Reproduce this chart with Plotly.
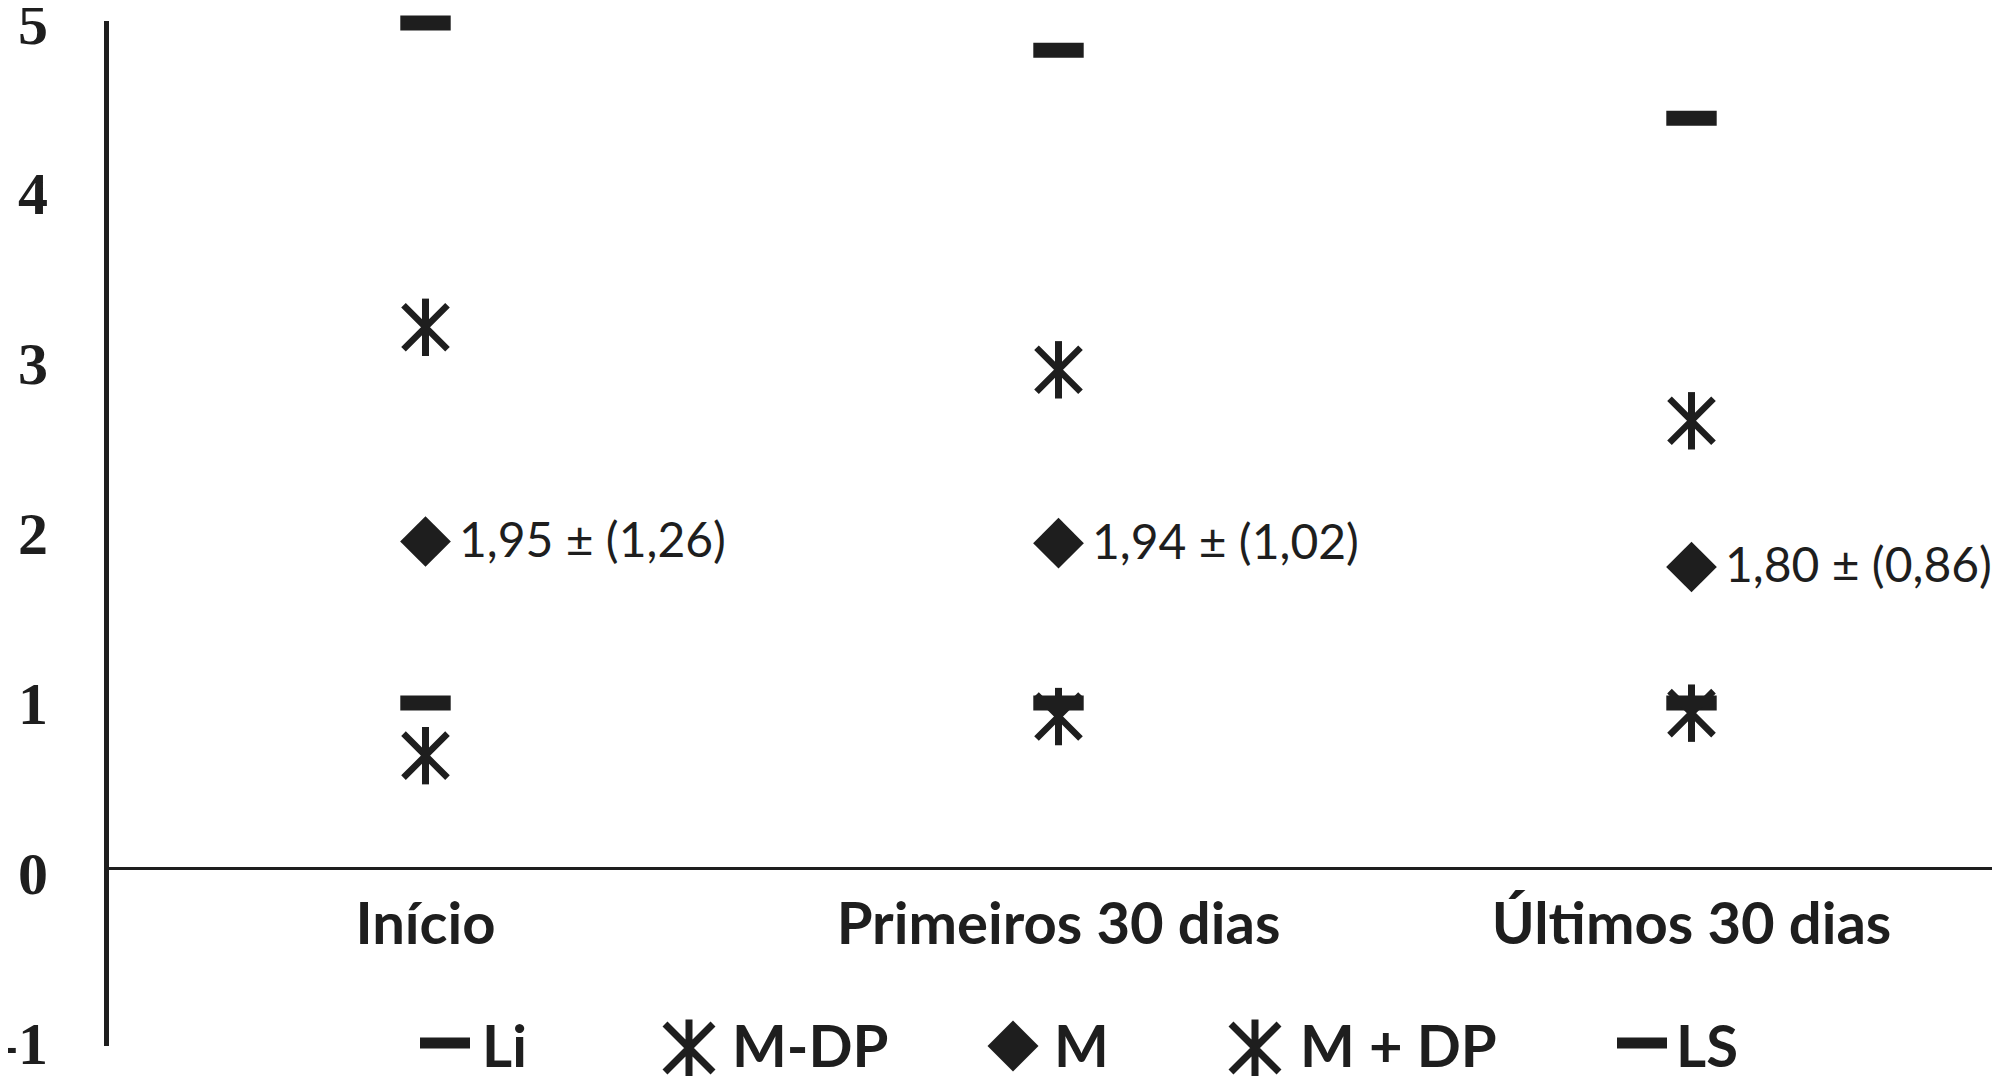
import plotly.graph_objects as go

# ---------------- data ----------------
categories = ["Início", "Primeiros 30 dias", "Últimos 30 dias"]
li_values = [1.0, 1.0, 1.0]
m_minus_dp_values = [0.69, 0.92, 0.94]
m_values = [1.95, 1.94, 1.80]
dp_values = [1.26, 1.02, 0.86]
m_plus_dp_values = [3.21, 2.96, 2.66]
ls_values = [5.0, 4.84, 4.44]
series_names = ["Li", "M-DP", "M", "M + DP", "LS"]
y_tick_values = [-1, 0, 1, 2, 3, 4, 5]
y_tick_labels = ["-1", "0", "1", "2", "3", "4", "5"]

# ---------------- styles / layout constants ----------------
INK = "#1e1e1e"
Y_RANGE = [-1.018, 5.012]
W, H = 2000, 1076
ML, MR, MT, MB = 101, 0, 13, 38
PW, PH = W - ML - MR, H - MT - MB


def dash_marker(h):
    return dict(symbol="line-ew", size=36, color=INK, line=dict(width=h, color=INK))


X_ARMS = dict(symbol="x-thin", size=44, color=INK, line=dict(width=6.5, color=INK))
V_ARM = dict(symbol="line-ns", size=41, color=INK, line=dict(width=7, color=INK))
DIAMOND = dict(symbol="diamond", size=39, color=INK, line=dict(width=0))

fig = go.Figure()


def add_pts(x, y, marker, name):
    fig.add_trace(go.Scatter(x=x, y=y, mode="markers", marker=marker, name=name,
                             showlegend=False, cliponaxis=False, hoverinfo="x+y+name"))


# chart marks
add_pts(categories, li_values, dash_marker(15), series_names[0])
add_pts(categories, ls_values, dash_marker(15), series_names[4])
add_pts(categories, m_minus_dp_values, X_ARMS, series_names[1])
add_pts(categories, m_minus_dp_values, V_ARM, series_names[1])
add_pts(categories, m_plus_dp_values, X_ARMS, series_names[3])
add_pts(categories, m_plus_dp_values, V_ARM, series_names[3])
add_pts(categories, m_values, DIAMOND, series_names[2])

# value labels next to the mean
for cat, mv, dv in zip(categories, m_values, dp_values):
    txt = f"{mv:.2f} ± ({dv:.2f})".replace(".", ",")
    fig.add_annotation(x=cat, y=mv, text=txt, showarrow=False, xanchor="left",
                       yanchor="middle", xshift=31, yshift=3,
                       font=dict(family="Lato", size=48, color=INK))

# ---------------- custom legend (drawn as decorations in page pixels) ----------------
def px_x(px):
    return (px - ML) / PW


def px_y(py):
    return (H - MB - py) / PH


legend_symbol_x = [437, 681, 1005, 1247, 1634]
legend_symbol_y = [1035, 1040, 1038, 1040, 1035]
legend_text_x = [472, 722, 1044, 1290, 1666]
legend_text_y = 1036

DASH_PATH = "M-25,-5.5 H25 V5.5 H-25 Z"
DIAMOND_PATH = "M25.5,0 L0,25.5 L-25.5,0 L0,-25.5 Z"
AST_PATH = "M0,28.5 V-28.5 M24,24 L-24,-24 M24,-24 L-24,24"
legend_paths = [DASH_PATH, AST_PATH, DIAMOND_PATH, AST_PATH, DASH_PATH]
legend_filled = [True, False, True, False, True]

for name, sx, sy, tx, path, filled in zip(series_names, legend_symbol_x, legend_symbol_y,
                                          legend_text_x, legend_paths, legend_filled):
    fig.add_shape(type="path", path=path, xref="paper", yref="paper",
                  xsizemode="pixel", ysizemode="pixel",
                  xanchor=px_x(sx), yanchor=px_y(sy),
                  fillcolor=INK if filled else "rgba(0,0,0,0)",
                  line=dict(color=INK, width=0 if filled else 7))
    fig.add_annotation(x=px_x(tx), y=px_y(legend_text_y), xref="paper", yref="paper",
                       text=name, showarrow=False, xanchor="left", yanchor="middle",
                       font=dict(family="Lato", size=58, color=INK, weight="bold"))

fig.update_layout(
    width=W, height=H,
    margin=dict(l=ML, r=MR, t=MT, b=MB),
    paper_bgcolor="white", plot_bgcolor="white",
    showlegend=False,
    xaxis=dict(type="category", range=[-0.5, 2.5], anchor="free",
               position=(0 - Y_RANGE[0]) / (Y_RANGE[1] - Y_RANGE[0]) + 5 / PH,
               showline=True, linewidth=3, linecolor=INK, ticks="",
               ticklabelstandoff=4, showgrid=False, zeroline=False, automargin=False,
               tickfont=dict(family="Lato", size=58, color=INK, weight="bold")),
    yaxis=dict(range=Y_RANGE, showline=True, linewidth=5, linecolor=INK,
               tickvals=y_tick_values, ticktext=y_tick_labels, ticks="",
               ticklabelstandoff=44, showgrid=False, zeroline=False, automargin=False,
               ticklabeloverflow="allow",
               tickfont=dict(family="Liberation Serif", size=60, color=INK, weight="bold")),
)

fig.write_html("out.html")
